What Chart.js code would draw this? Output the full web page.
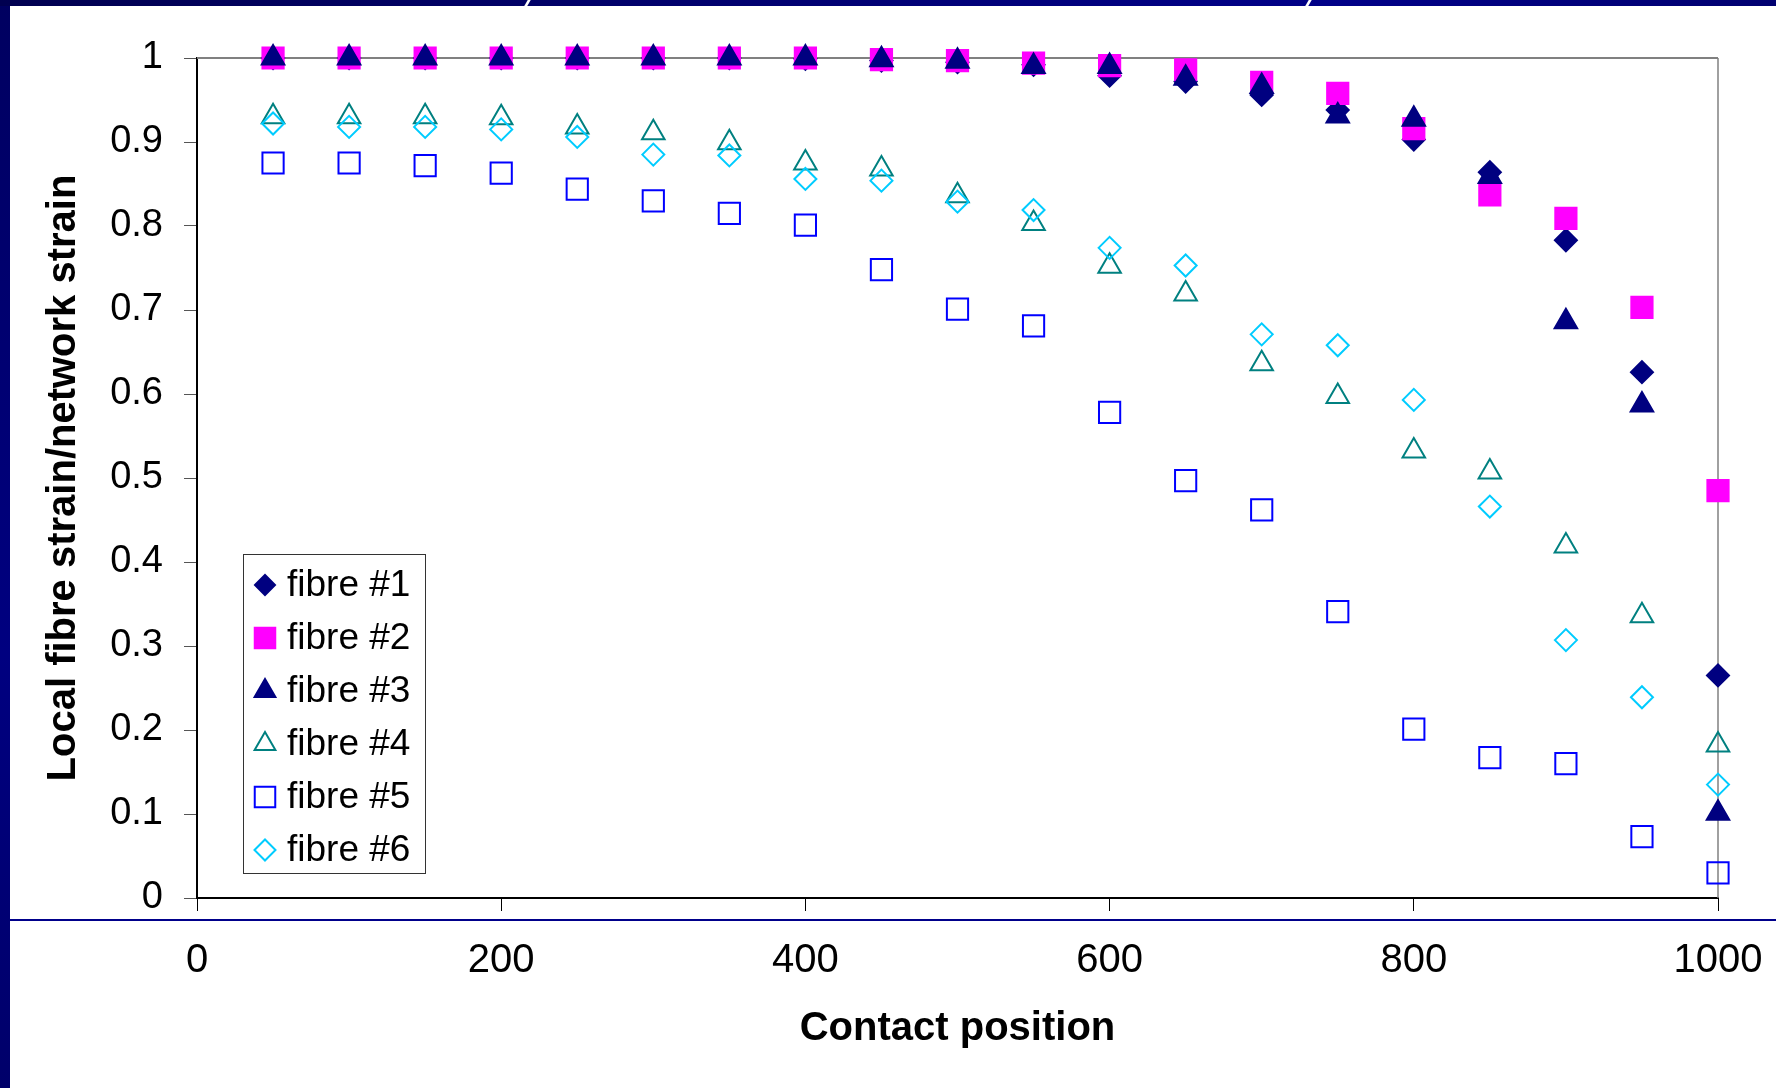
<!DOCTYPE html>
<html>
<head>
<meta charset="utf-8">
<script src="https://cdn.jsdelivr.net/npm/chart.js@4/dist/chart.umd.min.js"></script>
<style>
  html, body { margin: 0; padding: 0; background: #fff; }
  #wrap { position: relative; width: 1776px; height: 1088px; overflow: hidden; }
  .deco { position: absolute; }
  #leftbar { left: 0; top: 0; width: 10px; height: 1088px; background: linear-gradient(to bottom, #000060, #000080 60%, #00006a); }
  #topbar { left: 0; top: 0; width: 1776px; height: 6px; background: linear-gradient(to right, #000050, #00006e 40%, #000088 75%, #000070); }
  #rule { left: 10px; top: 919px; width: 1766px; height: 2px; background: #00008b; }
  .slash { top: 0; width: 3px; height: 6px; background: #fff; transform: skewX(-30deg); }
  canvas { position: absolute; left: 0; top: 0; }
</style>
</head>
<body>
<div id="wrap">
  <div class="deco" id="leftbar"></div>
  <div class="deco" id="topbar"></div>
  <div class="deco slash" style="left:526px"></div>
  <div class="deco slash" style="left:1307px"></div>
  <div class="deco" id="rule"></div>
  <canvas id="myChart" width="1776" height="1088"></canvas>
</div>
<script>
// contact positions (x values)
const positions = [50, 100, 150, 200, 250, 300, 350, 400, 450, 500, 550, 600, 650, 700, 750, 800, 850, 900, 950, 1000];

// local fibre strain / network strain
const fibre1 = [1, 1, 1, 1, 1, 1, 1, 0.999, 0.997, 0.995, 0.992, 0.979, 0.972, 0.956, 0.938, 0.903, 0.864, 0.783, 0.626, 0.265];
const fibre2 = [1, 1, 1, 1, 1, 1, 1, 1, 0.998, 0.997, 0.994, 0.991, 0.986, 0.971, 0.958, 0.916, 0.837, 0.809, 0.703, 0.485];
const fibre3 = [1, 1, 1, 1, 1, 1, 1, 1, 0.998, 0.996, 0.99, 0.99, 0.976, 0.966, 0.931, 0.927, 0.859, 0.686, 0.587, 0.101];
const fibre4 = [0.930, 0.930, 0.930, 0.929, 0.918, 0.911, 0.899, 0.875, 0.868, 0.836, 0.803, 0.752, 0.719, 0.636, 0.597, 0.532, 0.507, 0.419, 0.336, 0.182];
const fibre5 = [0.875, 0.875, 0.872, 0.863, 0.844, 0.830, 0.815, 0.801, 0.748, 0.701, 0.681, 0.578, 0.497, 0.462, 0.341, 0.201, 0.167, 0.160, 0.073, 0.030];
const fibre6 = [0.922, 0.918, 0.918, 0.915, 0.906, 0.885, 0.884, 0.856, 0.854, 0.829, 0.819, 0.774, 0.753, 0.671, 0.658, 0.593, 0.466, 0.307, 0.239, 0.135];

const seriesNames = ["fibre #1", "fibre #2", "fibre #3", "fibre #4", "fibre #5", "fibre #6"];
const xTickLabels = ["0", "200", "400", "600", "800", "1000"];
const yTickLabels = ["0", "0.1", "0.2", "0.3", "0.4", "0.5", "0.6", "0.7", "0.8", "0.9", "1"];

const FONT = "'Liberation Sans', Arial, Helvetica, sans-serif";
Chart.defaults.font.family = FONT;
Chart.defaults.color = "#000";

const toPoints = (arr) => positions.map((x, i) => ({ x: x, y: arr[i] }));

// marker look for each series (Excel style)
const markers = [
    { style: "rectRot", r: 11, fill: "#000080", stroke: "#000080", legendR: 10 },
    { style: "rect", r: 15, fill: "#FF00FF", stroke: "#FF00FF", legendR: 14.5 },
    { style: "triangle", r: 13, fill: "#000080", stroke: "#000080", legendR: 12 },
    { style: "triangle", r: 13, fill: "rgba(0,0,0,0)", stroke: "#008080", legendR: 12 },
    { style: "rect", r: 15, fill: "rgba(0,0,0,0)", stroke: "#0000FF", legendR: 14.5 },
    { style: "rectRot", r: 11, fill: "rgba(0,0,0,0)", stroke: "#00CCFF", legendR: 10.5 },
];

const allSeries = [fibre1, fibre2, fibre3, fibre4, fibre5, fibre6];

const dataChar = {
    datasets: allSeries.map((arr, i) => ({
        label: seriesNames[i],
        data: toPoints(arr),
        showLine: false,
        pointStyle: markers[i].style,
        pointRadius: markers[i].r,
        backgroundColor: markers[i].fill,
        borderColor: markers[i].stroke,
        borderWidth: 2,
        clip: false,
        // excel draws series 1 first, last series on top
        order: allSeries.length - i,
    })),
};

// grey plot area frame (top + right)
const plotFrame = {
    id: "plotFrame",
    beforeDatasetsDraw(chart) {
        const { ctx, chartArea } = chart;
        ctx.save();
        ctx.strokeStyle = "#808080";
        ctx.lineWidth = 2;
        ctx.beginPath();
        ctx.moveTo(chartArea.left, chartArea.top);
        ctx.lineTo(chartArea.right, chartArea.top);
        ctx.stroke();
        ctx.lineWidth = 1.5;
        ctx.beginPath();
        ctx.moveTo(chartArea.right, chartArea.top);
        ctx.lineTo(chartArea.right, chartArea.bottom);
        ctx.stroke();
        ctx.restore();
    },
};

function drawMarker(ctx, m, x, y, r) {
    const opts = {
        pointStyle: m.style,
        radius: r,
        rotation: 0,
        borderWidth: 2,
    };
    ctx.save();
    ctx.fillStyle = m.fill;
    ctx.strokeStyle = m.stroke;
    ctx.lineWidth = 2;
    Chart.helpers.drawPoint(ctx, opts, x, y);
    ctx.restore();
}

// legend box inside the plot, like the excel one
const boxLegend = {
    id: "boxLegend",
    afterDraw(chart) {
        const { ctx } = chart;
        const left = 243, top = 554, w = 182, h = 319;
        ctx.save();
        ctx.fillStyle = "#fff";
        ctx.fillRect(left, top, w, h);
        ctx.strokeStyle = "#333";
        ctx.lineWidth = 1;
        ctx.strokeRect(left + 0.5, top + 0.5, w, h);
        ctx.font = "37px " + FONT;
        ctx.textBaseline = "middle";
        chart.data.datasets.forEach((ds, i) => {
            const cy = 585 + i * 53;
            drawMarker(ctx, markers[i], 265, cy, markers[i].legendR);
            ctx.fillStyle = "#000";
            ctx.fillText(ds.label, 287, cy + 1);
        });
        ctx.restore();
    },
};

const ctx = document.getElementById("myChart");
const myChart = new Chart(ctx, {
    type: "scatter",
    data: dataChar,
    plugins: [plotFrame, boxLegend],
    options: {
        responsive: false,
        animation: false,
        events: [],
        layout: { padding: { top: 58, right: 58, bottom: 0, left: 0 } },
        plugins: {
            legend: { display: false },
            tooltip: { enabled: false },
        },
        scales: {
            x: {
                type: "linear",
                min: 0,
                max: 1000,
                afterFit: (s) => {
                    s.height = 190;
                    s.paddingLeft = 0;
                    s.paddingRight = 0;
                },
                afterBuildTicks: (s) => {
                    s.ticks = xTickLabels.map((t) => ({ value: Number(t) }));
                },
                ticks: {
                    callback: (v, i) => xTickLabels[i],
                    font: { size: 40 },
                    color: "#000",
                    padding: 26,
                    maxRotation: 0,
                },
                grid: {
                    display: true,
                    drawOnChartArea: false,
                    drawTicks: true,
                    tickLength: 13,
                    color: "#000",
                    lineWidth: 1,
                },
                border: { display: true, color: "#000", width: 2 },
                title: {
                    display: true,
                    text: "Contact position",
                    font: { size: 40, weight: "bold" },
                    color: "#000",
                    padding: { top: 0, bottom: 35 },
                },
            },
            y: {
                type: "linear",
                min: 0,
                max: 1,
                afterFit: (s) => { s.width = 197; },
                afterBuildTicks: (s) => {
                    s.ticks = yTickLabels.map((t) => ({ value: Number(t) }));
                },
                ticks: {
                    callback: (v, i) => yTickLabels[i],
                    font: { size: 38 },
                    color: "#000",
                    padding: 21,
                },
                grid: {
                    display: true,
                    drawOnChartArea: false,
                    drawTicks: true,
                    tickLength: 13,
                    color: "#555",
                    lineWidth: 1,
                },
                border: { display: true, color: "#000", width: 2 },
                title: {
                    display: true,
                    text: "Local fibre strain/network strain",
                    font: { size: 40, weight: "bold" },
                    color: "#000",
                    padding: { top: 40, bottom: 0 },
                },
            },
        },
    },
});
</script>
</body>
</html>
